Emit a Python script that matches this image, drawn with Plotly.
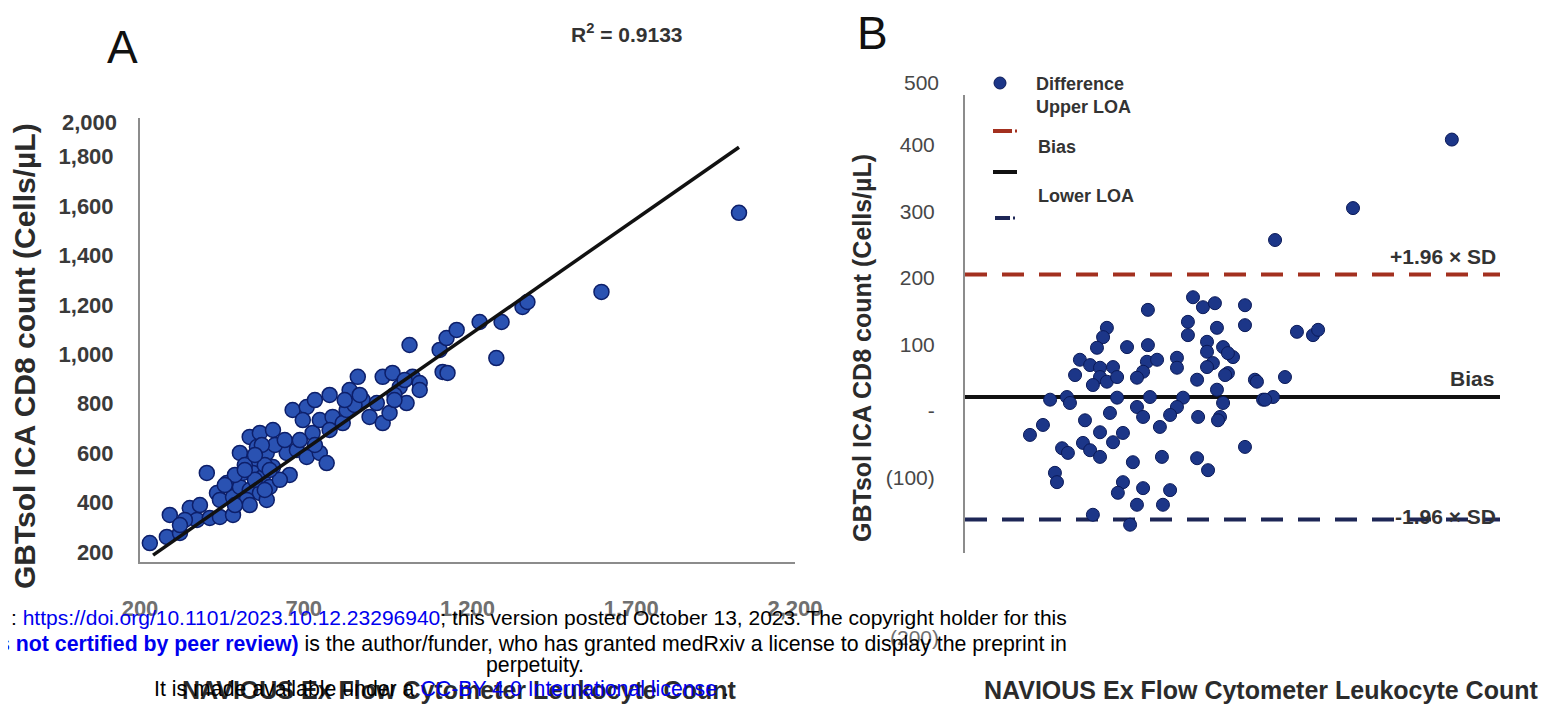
import plotly.graph_objects as go

# The page body adds an 8 px offset; the figure is sized to fill the rest.
OFF = 8
W, H = 1547 - OFF, 711 - OFF

# ---------------- Panel A data (NAVIOUS vs GBTsol) ----------------
A_x = [230, 291, 282, 322, 352, 374, 413, 444, 484, 404,
       435, 465, 444, 484, 505, 514, 505, 535, 566, 606,
       557, 545, 575, 535, 566, 596, 526, 587, 557, 587,
       606, 648, 657, 679, 709, 749, 770, 666, 709, 697,
       727, 749, 788, 819, 831, 840, 865, 880, 901, 923,
       941, 971, 993, 1014, 941, 962, 1032, 1054, 1023, 1115,
       1136, 1167, 1124, 1139, 1237, 1304, 1288, 1368, 1383, 1609,
       2029, 551, 581, 520, 612, 490, 627, 572, 734, 779,
       855, 977, 1008, 337, 520, 551, 581, 535, 596, 459,
       490, 642, 688, 734, 779, 825, 871, 977, 1054, 383,
       322]
A_y = [236, 350, 261, 277, 378, 330, 338, 342, 350, 520,
       439, 479, 411, 423, 463, 520, 601, 666, 682, 694,
       573, 520, 504, 451, 439, 463, 411, 411, 625, 601,
       544, 601, 512, 613, 585, 601, 560, 775, 787, 734,
       682, 734, 747, 722, 775, 856, 909, 815, 747, 803,
       909, 925, 868, 803, 722, 763, 909, 884, 1038, 1018,
       1066, 1099, 929, 925, 1131, 1131, 985, 1192, 1212, 1253,
       1573, 492, 552, 552, 633, 512, 492, 633, 815, 836,
       795, 836, 896, 330, 532, 593, 451, 390, 532, 471,
       390, 653, 653, 633, 694, 815, 836, 815, 856, 390,
       309]
REG_SLOPE = 0.923
REG_INTERCEPT = -34
R2_TEXT = "R<sup>2</sup> = 0.9133"

A_xticks = [200, 700, 1200, 1700, 2200]
A_xticktext = ["200", "700", "1,200", "1,700", "2,200"]
A_yticks = [200, 400, 600, 800, 1000, 1200, 1400, 1600, 1800]
A_yticktext = ["200", "400", "600", "800", "1,000", "1,200", "1,400", "1,600", "1,800"]
A_top_label = "2,000"

# ---------------- Panel B data (Bland-Altman) ----------------
B_x = [895, 934, 981, 718, 1099, 1099, 875, 875, 989, 557,
       542, 518, 636, 718, 451, 491, 530, 581, 432, 530,
       557, 502, 597, 714, 754, 699, 675, 832, 832, 950,
       950, 973, 1013, 1052, 1032, 950, 911, 1138, 1256, 334,
       400, 412, 597, 726, 675, 699, 856, 832, 805, 989,
       1013, 1001, 1170, 1209, 306, 255, 471, 569, 530, 620,
       581, 765, 915, 381, 404, 463, 491, 530, 659, 773,
       911, 954, 1099, 353, 361, 620, 600, 699, 675, 805,
       777, 502, 648, 1911, 1523, 1217, 1303, 1366, 1386, 1146,
       1178, 1021, 1032, 993]
B_y = [171, 156, 162, 152, 159, 129, 134, 114, 125, 125,
       111, 95, 96, 99, 77, 69, 65, 66, 54, 51,
       44, 39, 51, 74, 77, 59, 50, 80, 65, 104,
       89, 72, 96, 81, 57, 66, 47, 47, 51, 17,
       21, 12, 20, 21, 6, -9, 20, 6, -6, 32,
       12, -9, 17, 21, -21, -36, -14, -3, -32, -33,
       -47, -24, -9, -56, -63, -48, -59, -69, -77, -69,
       -71, -89, -54, -93, -107, -107, -123, -116, -141, -119,
       -141, -156, -171, 408, 305, 257, 119, 114, 122, 44,
       17, 54, 87, -14]
BIAS = 21
UPPER_LOA = 205
LOWER_LOA = -163
B_xrange = [0, 2100]
B_yticks = [-100, 0, 100, 200, 300, 400]
B_yticktext = ["(100)", "-", "100", "200", "300", "400"]
B_extra_labels = ["500", "(200)"]
legend_labels = ["Difference", "Upper LOA", "Bias", "Lower LOA"]
line_labels = ["+1.96 × SD", "Bias", "-1.96 × SD"]

Y_TITLE = "GBTsol ICA CD8 count (Cells/µL)"
X_TITLE = "NAVIOUS Ex Flow Cytometer Leukocyte Count"

# colours
A_FILL, A_EDGE = "#2a52b2", "#0d1f6a"
B_FILL, B_EDGE = "#1c3688", "#0b1a58"
RED = "#a3301f"
NAVY = "#1d2656"
AXIS_GREY = "#8c8c8c"
FONT = "Liberation Sans, Arial, sans-serif"


def px(x):
    return (x - OFF) / W


def py(y):
    return 1 - (y - OFF) / H


fig = go.Figure()

# ---- Panel A ----
fig.add_trace(go.Scatter(
    x=A_x, y=A_y, mode="markers", xaxis="x", yaxis="y",
    marker=dict(size=15, color=A_FILL, line=dict(color=A_EDGE, width=1.5)),
    showlegend=False))
xl = [min(A_x) + 10, max(A_x)]
fig.add_trace(go.Scatter(
    x=xl, y=[REG_SLOPE * v + REG_INTERCEPT for v in xl], mode="lines",
    xaxis="x", yaxis="y", line=dict(color="#111111", width=3.5), showlegend=False))

# ---- Panel B ----
for val, col, dash in [(UPPER_LOA, RED, "22px,15px"), (BIAS, "#111111", "solid"),
                       (LOWER_LOA, NAVY, "22px,15px")]:
    fig.add_trace(go.Scatter(
        x=B_xrange, y=[val, val], mode="lines", xaxis="x2", yaxis="y2",
        line=dict(color=col, width=4, dash=dash), showlegend=False))
fig.add_trace(go.Scatter(
    x=B_x, y=B_y, mode="markers", xaxis="x2", yaxis="y2",
    marker=dict(size=13, color=B_FILL, line=dict(color=B_EDGE, width=1)),
    showlegend=False))

fig.update_layout(
    width=W, height=H, autosize=False,
    margin=dict(l=0, r=0, t=0, b=0, pad=0),
    paper_bgcolor="white", plot_bgcolor="white",
    font=dict(family=FONT),
    xaxis=dict(domain=[px(140), px(795)], range=[200, 2200], anchor="y", automargin=False,
               tickvals=A_xticks, ticktext=A_xticktext, showgrid=False, zeroline=False,
               showline=True, linecolor=AXIS_GREY, linewidth=2, ticks="",
               ticklabelstandoff=26,
               tickfont=dict(size=22, color="#707070", weight="bold")),
    yaxis=dict(domain=[py(562), py(118)], range=[159.5, 1957], anchor="x", automargin=False,
               tickvals=A_yticks, ticktext=A_yticktext, showgrid=False, zeroline=False,
               showline=True, linecolor=AXIS_GREY, linewidth=2, ticks="",
               ticklabelstandoff=20,
               tickfont=dict(size=22, color="#3a3a3a", weight="bold")),
    xaxis2=dict(domain=[px(965), px(1500)], range=B_xrange, anchor="y2", automargin=False,
                showgrid=False, zeroline=False, showline=False, showticklabels=False,
                ticks=""),
    yaxis2=dict(domain=[py(553), py(95)], range=[-213.5, 475], anchor="x2", automargin=False,
                tickvals=B_yticks, ticktext=B_yticktext, showgrid=False, zeroline=False,
                showline=True, linecolor=AXIS_GREY, linewidth=2, ticks="",
                ticklabelstandoff=24,
                tickfont=dict(size=21, color="#474747")),
)

ann = []


def add_text(text, x, y, size, color="#222", xanchor="center", angle=0, weight="normal",
             family=FONT):
    ann.append(dict(text=text, x=px(x), y=py(y), xref="paper", yref="paper",
                    xanchor=xanchor, yanchor="middle", showarrow=False, textangle=angle,
                    font=dict(size=size, color=color, family=family, weight=weight)))


add_text("A", 122, 47, 46, "#111")
add_text("B", 872, 33, 46, "#111")
add_text(R2_TEXT, 627, 33, 21, "#333", weight="bold")
add_text(A_top_label, 119, 123, 22, "#3a3a3a", xanchor="right", weight="bold")
add_text(B_extra_labels[0], 941, 82, 21, "#474747", xanchor="right")
add_text(B_extra_labels[1], 941, 637, 21, "#707070", xanchor="right")

add_text(Y_TITLE, 24, 356, 30, "#2b2b2b", angle=-90, weight="bold")
add_text(Y_TITLE, 862, 348, 25, "#2b2b2b", angle=-90, weight="bold")
add_text(X_TITLE, 459, 690, 25, "#2b2b2b", weight="bold")
add_text(X_TITLE, 1261, 690, 25, "#2b2b2b", weight="bold")

# line labels
add_text(line_labels[0], 1498, 257, 21, "#333", xanchor="right", weight="bold")
add_text(line_labels[1], 1496, 378, 21, "#333", xanchor="right", weight="bold")
add_text(line_labels[2], 1498, 516, 21, "#333", xanchor="right", weight="bold")

# legend text
add_text(legend_labels[0], 1034, 84, 18, "#333", xanchor="left", weight="bold")
add_text(legend_labels[1], 1034, 107, 18, "#333", xanchor="left", weight="bold")
add_text(legend_labels[2], 1036, 147, 18, "#333", xanchor="left", weight="bold")
add_text(legend_labels[3], 1036, 196, 18, "#333", xanchor="left", weight="bold")

# overlay text (preprint watermark)
BLUE = "#0000ee"
wm1 = (": <span style='color:%s'>https://doi.org/10.1101/2023.10.12.23296940</span>; "
       "this version posted October 13, 2023. The copyright holder for this" % BLUE)
wm2 = ("<span style='color:%s'><b>s not certified by peer review)</b></span> is the author/funder, "
       "who has granted medRxiv a license to display the preprint in" % BLUE)
wm3 = "perpetuity."
wm4 = ("It is made available under a <span style='color:%s'>CC-BY 4.0 International license</span> ."
       % BLUE)
WMF = "Liberation Sans, Arial"
add_text(wm1, 1069, 617, 21, "#000", xanchor="right", family=WMF)
add_text(wm2, 1069, 644, 21.3, "#000", xanchor="right", family=WMF)
add_text(wm3, 535, 665, 21.3, "#000", family=WMF)
add_text(wm4, 441, 689, 21.3, "#000", family=WMF)

fig.update_layout(annotations=ann)

# legend symbols (paper coordinates)
shapes = [
    dict(type="circle", xref="paper", yref="paper", x0=px(994), x1=px(1006),
         y0=py(89), y1=py(77), fillcolor=B_FILL, line=dict(color=B_EDGE, width=1)),
    dict(type="line", xref="paper", yref="paper", x0=px(993), x1=px(1012), y0=py(131), y1=py(131),
         line=dict(color=RED, width=4)),
    dict(type="line", xref="paper", yref="paper", x0=px(1015), x1=px(1017), y0=py(131), y1=py(131),
         line=dict(color=RED, width=3)),
    dict(type="line", xref="paper", yref="paper", x0=px(993), x1=px(1017), y0=py(172), y1=py(172),
         line=dict(color="#111111", width=4)),
    dict(type="line", xref="paper", yref="paper", x0=px(995), x1=px(1010), y0=py(218), y1=py(218),
         line=dict(color=NAVY, width=4)),
    dict(type="line", xref="paper", yref="paper", x0=px(1013), x1=px(1015), y0=py(218), y1=py(218),
         line=dict(color=NAVY, width=3)),
]
fig.update_layout(shapes=shapes)

fig.write_html("out.html")
